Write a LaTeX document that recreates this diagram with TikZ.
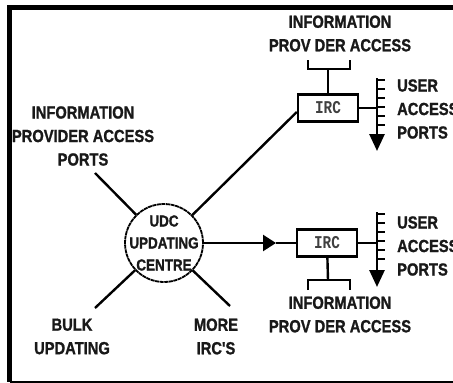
\documentclass[tikz,border=0pt]{standalone}
\usepackage{fontspec}
\newfontfamily\diagfont{Liberation Sans}[FakeStretch=0.84, BoldFeatures={FakeBold=1.2}]
\newfontfamily\ircfont{Liberation Mono}[FakeStretch=0.8]
\usetikzlibrary{positioning, arrows.meta, calc}
\tikzset{
    label text/.style={font=\diagfont\bfseries\fontsize{17.5}{23.5}\selectfont, align=center, inner sep=0pt, text=black!90},
    user text/.style={label text, align=left, anchor=west},
    centre text/.style={label text, font=\diagfont\bfseries\fontsize{16}{22}\selectfont},
    irc box/.style={rectangle, draw, line width=2.4pt, minimum width=60pt, minimum height=27pt, inner sep=0pt, font=\ircfont\bfseries\fontsize{18}{18}\selectfont, text=black!75},
    udc circle/.style={circle, draw, line width=1.8pt, dash pattern=on 4pt off 0.6pt, minimum size=78pt, inner sep=0pt},
    link/.style={line width=2.4pt},
    tick/.style={line width=2.7pt},
    bus line/.style={line width=2.8pt, -{Triangle[length=17pt,width=15pt]}},
    frame line/.style={line width=4.5pt},
}

\begin{document}
\begin{tikzpicture}[x=1pt, y=-1pt]
\useasboundingbox (0,0) rectangle (453,383);
% frame, open on the right
\draw[frame line] (453,7.5) -- (9.5,7.5) -- (9.5,382);
\draw[line width=2.5pt] (9.5,382) -- (453,382);

% updating centre
\node[udc circle] (udc) at (164,243) {};
\node[centre text] (udctext) at (udc) {UDC\\UPDATING\\CENTRE};

% information retrieval centres
\node[irc box] (irc1) at (328,108) {IRC};
\node[irc box] (irc2) at (327,243) {IRC};

% labels round the centre
\node[label text] (ipa) at (83,136) {INFORMATION\\PROVIDER ACCESS\\PORTS};
\node[label text] (bulk) at (72,336.5) {BULK\\UPDATING};
\node[label text] (more) at (216,336.5) {MORE\\IRC'S};
\coordinate (ipaend) at (95,173);
\coordinate (bulkend) at (95,308);
\coordinate (moreend) at (230,306);
\draw[link] (ipaend) -- (udc);
\draw[link] (bulkend) -- (udc);
\draw[link] (moreend) -- (udc);

% links to the IRCs
\draw[link] (udc) -- ($(irc1.west)+(0,4)$);
\coordinate (arrtip) at (276,243);
\draw[link, -{Triangle[length=13pt,width=16pt]}] (udc) -- (arrtip);
\draw[link] (arrtip) -- (irc2);

% upper IRC: provider access and user ports
\node[label text] (info1) at (340,33.5) {INFORMATION\\PROV DER ACCESS};
\coordinate (stem1) at (328,69);
\draw[link] (irc1) -- (stem1);
\draw[link] (308,60) -- (308,69) -- (350,69) -- (350,60);
\coordinate (bus1top) at (377,78);
\coordinate (bus1end) at (377,151);
\draw[link] (irc1) -- (bus1top |- irc1);
\draw[bus line] (bus1top) -- (bus1end);
\foreach \y in {80,89,98,107,116,125}
    \draw[tick] (376,\y) -- (385,\y);
\node[user text] (user1) at (397,109) {USER\\ACCESS\\PORTS};

% lower IRC: user ports and provider access
\coordinate (bus2top) at (377,212);
\coordinate (bus2end) at (377,287);
\draw[link] (irc2) -- (bus2top |- irc2);
\draw[bus line] (bus2top) -- (bus2end);
\foreach \y in {214,223,232,241,250,259}
    \draw[tick] (376,\y) -- (385,\y);
\node[user text] (user2) at (397,246) {USER\\ACCESS\\PORTS};
\coordinate (stem2) at (328,280);
\draw[link] (irc2) -- (stem2);
\draw[link] (308,290) -- (308,280) -- (350,280) -- (350,290);
\node[label text] (info2) at (340,314.5) {INFORMATION\\PROV DER ACCESS};
\end{tikzpicture}
\end{document}
